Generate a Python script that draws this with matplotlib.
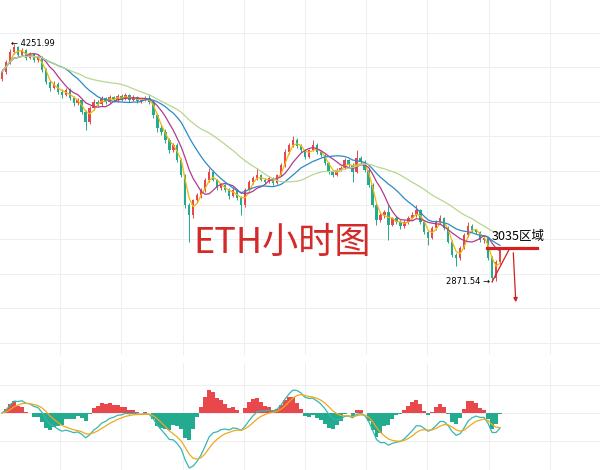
import matplotlib.pyplot as plt
import numpy as np
import pandas as pd

# hourly ETH candles (USDT)
opens = [4050, 4090, 4148, 4206, 4235, 4188, 4217, 4171, 4194, 4159,
         4177, 4101, 4032, 3997, 4020, 3974, 3956, 3985, 3939, 3910,
         3927, 3858, 3800, 3881, 3916, 3904, 3939, 3916, 3945, 3927,
         3950, 3933, 3956, 3927, 3945, 3921, 3927, 3939, 3916, 3840,
         3765, 3742, 3695, 3637, 3666, 3579, 3492, 3318, 3260, 3347,
         3376, 3405, 3463, 3510, 3463, 3417, 3434, 3405, 3370, 3405,
         3359, 3318, 3405, 3452, 3475, 3492, 3463, 3452, 3475, 3446,
         3492, 3550, 3626, 3666, 3695, 3660, 3637, 3597, 3637, 3666,
         3626, 3608, 3562, 3510, 3492, 3521, 3533, 3579, 3550, 3510,
         3591, 3568, 3521, 3434, 3318, 3231, 3260, 3278, 3202, 3243,
         3220, 3196, 3220, 3243, 3260, 3289, 3220, 3162, 3127, 3185,
         3220, 3243, 3185, 3104, 3028, 3011, 3069, 3144, 3196, 3173,
         3162, 3115, 3127, 3011, 2895, 2988]
closes = [4090, 4148, 4206, 4235, 4188, 4217, 4171, 4194, 4159, 4177,
          4101, 4032, 3997, 4020, 3974, 3956, 3985, 3939, 3910, 3927,
          3858, 3800, 3881, 3916, 3904, 3939, 3916, 3945, 3927, 3950,
          3933, 3956, 3927, 3945, 3921, 3927, 3939, 3916, 3840, 3765,
          3742, 3695, 3637, 3666, 3579, 3492, 3318, 3260, 3347, 3376,
          3405, 3463, 3510, 3463, 3417, 3434, 3405, 3370, 3405, 3359,
          3318, 3405, 3452, 3475, 3492, 3463, 3452, 3475, 3446, 3492,
          3550, 3626, 3666, 3695, 3660, 3637, 3597, 3637, 3666, 3626,
          3608, 3562, 3510, 3492, 3521, 3533, 3579, 3550, 3510, 3591,
          3568, 3521, 3434, 3318, 3231, 3260, 3278, 3202, 3243, 3220,
          3196, 3220, 3243, 3260, 3289, 3220, 3162, 3127, 3185, 3220,
          3243, 3185, 3104, 3028, 3011, 3069, 3144, 3196, 3173, 3162,
          3115, 3127, 3011, 2895, 2988, 3057]
highs = [4105, 4160, 4220, 4252, 4240, 4230, 4222, 4205, 4200, 4190,
         4185, 4110, 4045, 4035, 4030, 3990, 3995, 3995, 3950, 3940,
         3935, 3870, 3890, 3930, 3925, 3950, 3945, 3958, 3950, 3962,
         3960, 3968, 3962, 3955, 3952, 3935, 3950, 3962, 3925, 3850,
         3790, 3760, 3705, 3680, 3675, 3590, 3500, 3330, 3355, 3390,
         3415, 3475, 3535, 3520, 3470, 3445, 3440, 3415, 3420, 3412,
         3370, 3415, 3462, 3488, 3530, 3500, 3475, 3485, 3480, 3500,
         3560, 3640, 3680, 3720, 3705, 3670, 3645, 3645, 3695, 3675,
         3635, 3615, 3570, 3520, 3530, 3545, 3590, 3585, 3560, 3636,
         3600, 3580, 3530, 3445, 3330, 3275, 3290, 3318, 3250, 3255,
         3230, 3232, 3255, 3275, 3318, 3295, 3228, 3170, 3195, 3232,
         3260, 3250, 3195, 3115, 3040, 3080, 3155, 3220, 3205, 3180,
         3170, 3140, 3135, 3020, 2998, 3068]
lows = [4035, 4078, 4135, 4195, 4175, 4180, 4160, 4162, 4145, 4150,
        4090, 4020, 3980, 3990, 3960, 3940, 3948, 3925, 3895, 3900,
        3845, 3753, 3790, 3870, 3890, 3895, 3905, 3908, 3915, 3918,
        3922, 3925, 3915, 3920, 3910, 3912, 3920, 3905, 3825, 3740,
        3725, 3680, 3620, 3625, 3565, 3480, 3300, 3104, 3240, 3335,
        3360, 3395, 3450, 3455, 3405, 3405, 3395, 3355, 3362, 3345,
        3260, 3305, 3395, 3442, 3465, 3455, 3440, 3445, 3435, 3438,
        3485, 3540, 3615, 3655, 3650, 3625, 3585, 3590, 3630, 3615,
        3598, 3550, 3500, 3480, 3485, 3515, 3525, 3540, 3450, 3505,
        3555, 3510, 3420, 3305, 3200, 3220, 3245, 3115, 3195, 3210,
        3180, 3185, 3210, 3235, 3250, 3210, 3150, 3085, 3118, 3175,
        3210, 3175, 3095, 3015, 2963, 3000, 3060, 3135, 3160, 3150,
        3105, 3100, 3000, 2872, 2880, 2975]

ma_windows = [3, 7, 15, 30]
ma_colors = ['#f2b705', '#b23a8e', '#2b8bc6', '#b9d68f']

red = '#e8484b'
teal = '#22ab8f'

o = np.array(opens)
c = np.array(closes)
h = np.array(highs)
l = np.array(lows)
idx = np.arange(len(c))

fig = plt.figure(figsize=(6, 4.7), dpi=100)
ax = fig.add_axes([0, 1 - 355 / 470, 1, 355 / 470])
ax2 = fig.add_axes([0, 0, 1, 107 / 470])

# candles
col = np.where(c >= o, red, teal)
ax.vlines(idx, l, h, colors=col, lw=0.7, zorder=2)
ax.bar(idx, np.abs(c - o), bottom=np.minimum(o, c), width=0.6, color=col, zorder=2)

# moving averages
s = pd.Series(c, dtype=float)
for w, mc in zip(ma_windows, ma_colors):
    ax.plot(idx, s.rolling(w, min_periods=1).mean(), color=mc, lw=0.9, zorder=3)

# macd
dif = s.ewm(span=6, adjust=False).mean() - s.ewm(span=13, adjust=False).mean()
dea = dif.ewm(span=5, adjust=False).mean()
hist = 2 * (dif - dea)
ax2.bar(idx, hist, width=1.0, color=np.where(hist > 0, red, teal), zorder=2)
ax2.plot(idx, dif, color='#35b7b0', lw=0.9, zorder=3)
ax2.plot(idx, dea, color='#f0a81e', lw=0.9, zorder=3)

# annotations
ax.text(2.2, 4252, '← 4251.99', fontsize=6, va='center', ha='left', zorder=5)
ax.text(122.4, 2872, '2871.54 →', fontsize=6, va='center', ha='right', zorder=5)
ax.text(70.3, 3098, 'ETH小时图', fontsize=26, color='#d42a2a', ha='center', va='center',
        family=['Noto Sans CJK SC', 'DejaVu Sans'], zorder=5)
ax.text(123.0, 3133, '3035区域', fontsize=9, color='black', ha='left', va='center',
        family=['Noto Sans CJK SC', 'DejaVu Sans'], zorder=5)
ax.plot([121.7, 134.3], [3069, 3069], color='#d42020', lw=2.3, zorder=5)
ax.plot([123.0, 127.5], [2872, 3069], color='#d42020', lw=0.9, zorder=5)
ax.annotate('', xy=(129.0, 2738), xytext=(128.3, 3057),
            arrowprops=dict(arrowstyle='-|>', color='#d42020', lw=0.9, mutation_scale=6),
            zorder=5)

# axes layout
for a in (ax, ax2):
    a.set_xlim(-0.5, 150.1)
    a.set_xticks(np.arange(14.6, 150, 15.36))
    a.tick_params(length=0, labelbottom=False, labelleft=False)
    for sp in a.spines.values():
        sp.set_visible(False)
    a.grid(True, color='#efefef', lw=0.7, zorder=0)
    a.set_axisbelow(True)

ax.set_ylim(2448, 4507)
ax.set_yticks(np.arange(2520, 4400, 199.5))

lo = dif.min() * 57 / 55
hi = -lo * 50 / 57
ax2.set_ylim(lo, hi)
pp = (hi - lo) / 107
ax2.set_yticks([-28 * pp, 0, 28 * pp])

fig.savefig('out.png', dpi=100)
